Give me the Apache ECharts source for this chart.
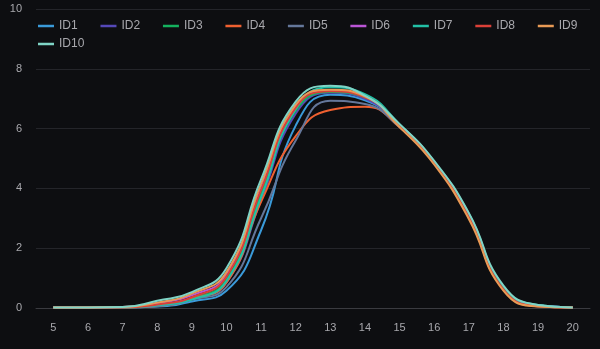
<!DOCTYPE html>
<html>
<head>
<meta charset="utf-8">
<script src="https://cdn.jsdelivr.net/npm/echarts@6/dist/echarts.min.js"></script>
<style>
  html, body { margin: 0; padding: 0; background: #0d0e11; }
  #chart { width: 600px; height: 349px; }
</style>
</head>
<body>
<div id="chart"></div>
<script>
// Hours of the day on the x axis
const hours = ['5', '6', '7', '8', '9', '10', '11', '12', '13', '14', '15', '16', '17', '18', '19', '20'];

// One profile per ID, one value per hour
const id1  = [0.02, 0.02, 0.02, 0.05, 0.22, 0.58, 2.6, 6.1, 7.13, 6.95, 6.1, 4.85, 3.1, 0.65, 0.08, 0.02];
const id2  = [0.02, 0.02, 0.02, 0.08, 0.3, 0.85, 3.6, 6.5, 7.2, 7.0, 6.1, 4.85, 3.1, 0.65, 0.08, 0.02];
const id3  = [0.02, 0.02, 0.02, 0.1, 0.32, 0.95, 3.8, 6.6, 7.22, 7.05, 6.1, 4.85, 3.1, 0.65, 0.08, 0.02];
const id4  = [0.02, 0.02, 0.02, 0.07, 0.3, 0.85, 3.55, 5.75, 6.62, 6.73, 6.05, 4.85, 3.05, 0.62, 0.06, 0.02];
const id5  = [0.02, 0.02, 0.02, 0.06, 0.28, 0.7, 3.0, 5.6, 6.93, 6.82, 6.05, 4.85, 3.1, 0.65, 0.08, 0.02];
const id6  = [0.02, 0.02, 0.03, 0.16, 0.42, 1.1, 4.0, 6.75, 7.28, 7.08, 6.1, 4.85, 3.1, 0.65, 0.08, 0.02];
const id7  = [0.02, 0.02, 0.02, 0.09, 0.28, 0.9, 3.7, 6.65, 7.38, 7.15, 6.15, 4.9, 3.15, 0.7, 0.1, 0.02];
const id8  = [0.02, 0.02, 0.02, 0.12, 0.36, 1.05, 3.95, 6.7, 7.25, 7.05, 6.1, 4.85, 3.05, 0.62, 0.06, 0.02];
const id9  = [0.02, 0.02, 0.03, 0.18, 0.48, 1.2, 4.15, 6.8, 7.3, 7.08, 6.05, 4.8, 2.98, 0.58, 0.05, 0.02];
const id10 = [0.02, 0.02, 0.03, 0.24, 0.53, 1.33, 4.3, 6.9, 7.43, 7.1, 6.15, 4.92, 3.18, 0.75, 0.1, 0.02];

const names = ['ID1', 'ID2', 'ID3', 'ID4', 'ID5', 'ID6', 'ID7', 'ID8', 'ID9', 'ID10'];
const values = [id1, id2, id3, id4, id5, id6, id7, id8, id9, id10];
const colors = ['#3a9ad9', '#5548b8', '#14b15e', '#ef6030', '#64779a', '#bb55d6', '#22c0a6', '#db4038', '#e89a55', '#7fd4c6'];

const legendText = { color: '#a8a8ad', fontSize: 12, fontFamily: 'Liberation Sans', width: 20 };
const legendBase = {
  left: 33,
  itemGap: 22.8,
  itemWidth: 16,
  itemHeight: 2.5,
  icon: 'rect',
  textStyle: legendText
};

const chart = echarts.init(document.getElementById('chart'), null, { renderer: 'canvas' });
chart.setOption({
  backgroundColor: '#0d0e11',
  color: colors,
  animation: false,
  legend: [
    Object.assign({ top: 15, data: names.slice(0, 9) }, legendBase),
    Object.assign({ top: 33, data: names.slice(9) }, legendBase)
  ],
  grid: { left: 36, right: 10, top: 9, bottom: 41 },
  xAxis: {
    type: 'category',
    data: hours,
    axisLine: { lineStyle: { color: '#3a3b40' } },
    axisTick: { show: false },
    axisLabel: { color: '#a8a8ad', fontSize: 11, margin: 14, fontFamily: 'Liberation Sans' },
    splitLine: { show: false }
  },
  yAxis: {
    type: 'value',
    min: 0,
    max: 10,
    interval: 2,
    axisLine: { show: false },
    axisTick: { show: false },
    axisLabel: { color: '#a8a8ad', fontSize: 11, margin: 14, fontFamily: 'Liberation Sans' },
    splitLine: { lineStyle: { color: '#24252a' } }
  },
  series: names.map((n, i) => ({
    name: n,
    type: 'line',
    data: values[i],
    smooth: true,
    showSymbol: false,
    symbol: 'none',
    lineStyle: { width: 2 }
  }))
});
</script>
</body>
</html>
